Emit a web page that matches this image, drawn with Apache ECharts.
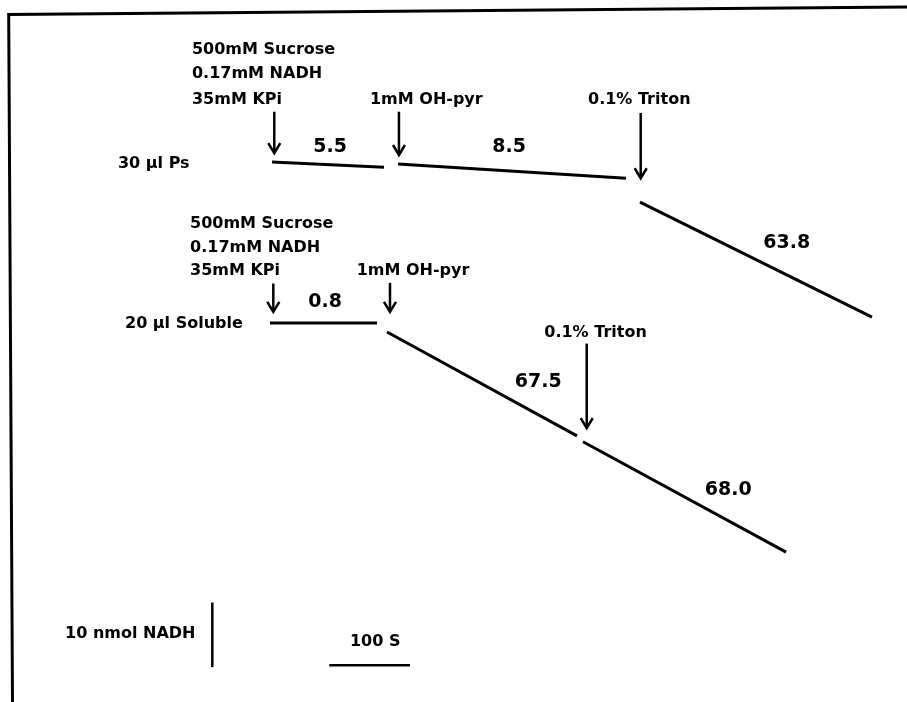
<!DOCTYPE html>
<html>
<head>
<meta charset="utf-8">
<script src="https://cdn.jsdelivr.net/npm/echarts@6/dist/echarts.min.js"></script>
<style>html,body{margin:0;padding:0;background:#fff;}#chart{width:907px;height:702px;}</style>
</head>
<body>
<div id="chart"></div>
<script>
// Units: x = time (s), y = NADH (nmol)
// Trace segments for 30 µl Ps
const psSegments = [
  [[337.1, 83.6], [475.9, 82.8]],
  [[493.2, 83.3], [775.8, 81.1]],
  [[793.1, 77.4], [1080.6, 59.6]]
];
// Trace segments for 20 µl Soluble
const solSegments = [
  [[334.6, 58.7], [467.2, 58.7]],
  [[479.6, 57.3], [715.0, 41.2]],
  [[722.5, 40.3], [974.1, 23.2]]
];
// Addition arrows: [time, top nmol, tip nmol]
const arrows = [
  [339.9, 91.4, 85.0],
  [494.4, 91.4, 84.7],
  [794.0, 91.2, 81.1],
  [338.7, 64.8, 60.4],
  [483.3, 64.9, 60.4],
  [727.1, 55.5, 42.4]
];
// Scale bars
const nadhBar = [[263.1, 15.4], [263.1, 5.4]];   // 10 nmol NADH
const timeBar = [[408.1, 5.7], [508.1, 5.7]];    // 100 s
// Text labels: [time, nmol, text]
const labels = [
  [237.9, 101.0, '500mM Sucrose'],
  [237.9, 97.3, '0.17mM NADH'],
  [237.9, 93.2, '35mM KPi'],
  [458.5, 93.2, '1mM OH-pyr'],
  [728.7, 93.3, '0.1% Triton'],
  [146.2, 83.3, '30 µl Ps'],
  [235.5, 74.0, '500mM Sucrose'],
  [235.5, 70.3, '0.17mM NADH'],
  [235.5, 66.7, '35mM KPi'],
  [442.0, 66.7, '1mM OH-pyr'],
  [154.9, 58.6, '20 µl Soluble'],
  [674.5, 57.2, '0.1% Triton'],
  [80.6, 10.6, '10 nmol NADH'],
  [433.7, 9.3, '100 S']
];
// Rate labels: [time, nmol, text]
const rates = [
  [409.0, 86.0, '5.5'],
  [630.8, 86.0, '8.5'],
  [974.9, 71.0, '63.8'],
  [402.8, 62.0, '0.8'],
  [667.1, 49.6, '67.5'],
  [902.5, 32.8, '68.0']
];

const chart = echarts.init(document.getElementById('chart'), null, {renderer: 'canvas'});
const FONT = '"DejaVu Sans", sans-serif';
const series = [];
function lineSeries(pts, w) {
  return {
    type: 'line', data: pts, showSymbol: false, symbol: 'none', silent: true,
    lineStyle: {color: '#000', width: w, cap: 'butt'}, animation: false
  };
}
psSegments.forEach(s => series.push(lineSeries(s, 3)));
solSegments.forEach(s => series.push(lineSeries(s, 3)));
series.push(lineSeries(nadhBar, 2.5));
series.push(lineSeries(timeBar, 2.5));

series.push({
  type: 'custom', silent: true, animation: false,
  data: arrows,
  renderItem: function (params, api) {
    const top = api.coord([api.value(0), api.value(1)]);
    const tip = api.coord([api.value(0), api.value(2)]);
    return {
      type: 'group',
      children: [
        {type: 'line', shape: {x1: top[0], y1: top[1], x2: tip[0], y2: tip[1] - 1},
         style: {stroke: '#000', lineWidth: 2.5}},
        {type: 'polyline', shape: {points: [[tip[0] - 6, tip[1] - 10], [tip[0], tip[1]], [tip[0] + 6, tip[1] - 10]]},
         style: {stroke: '#000', lineWidth: 2.5, fill: null}}
      ]
    };
  }
});

series.push({
  type: 'custom', silent: true, animation: false,
  data: labels,
  renderItem: function (params, api) {
    const d = labels[params.dataIndex];
    const p = api.coord([d[0], d[1]]);
    return {type: 'text', x: p[0], y: p[1],
      style: {text: d[2], fill: '#000', fontFamily: FONT, fontWeight: 'bold', fontSize: 16,
              align: 'left', verticalAlign: 'middle'}};
  }
});
series.push({
  type: 'custom', silent: true, animation: false,
  data: rates,
  renderItem: function (params, api) {
    const d = rates[params.dataIndex];
    const p = api.coord([d[0], d[1]]);
    return {type: 'text', x: p[0], y: p[1],
      style: {text: d[2], fill: '#000', fontFamily: FONT, fontWeight: 'bold', fontSize: 19,
              align: 'center', verticalAlign: 'middle'}};
  }
});

chart.setOption({
  animation: false,
  backgroundColor: '#fff',
  grid: {left: 0, top: 0, width: 907, height: 702, containLabel: false},
  xAxis: {type: 'value', min: 0, max: 1124, show: false},
  yAxis: {type: 'value', min: 0, max: 108.7, show: false},
  graphic: [
    {type: 'polyline', silent: true,
     shape: {points: [[907, 7], [8.7, 14.5], [12.5, 702]]},
     style: {stroke: '#000', lineWidth: 3, fill: null}}
  ],
  series: series
});
</script>
</body>
</html>
